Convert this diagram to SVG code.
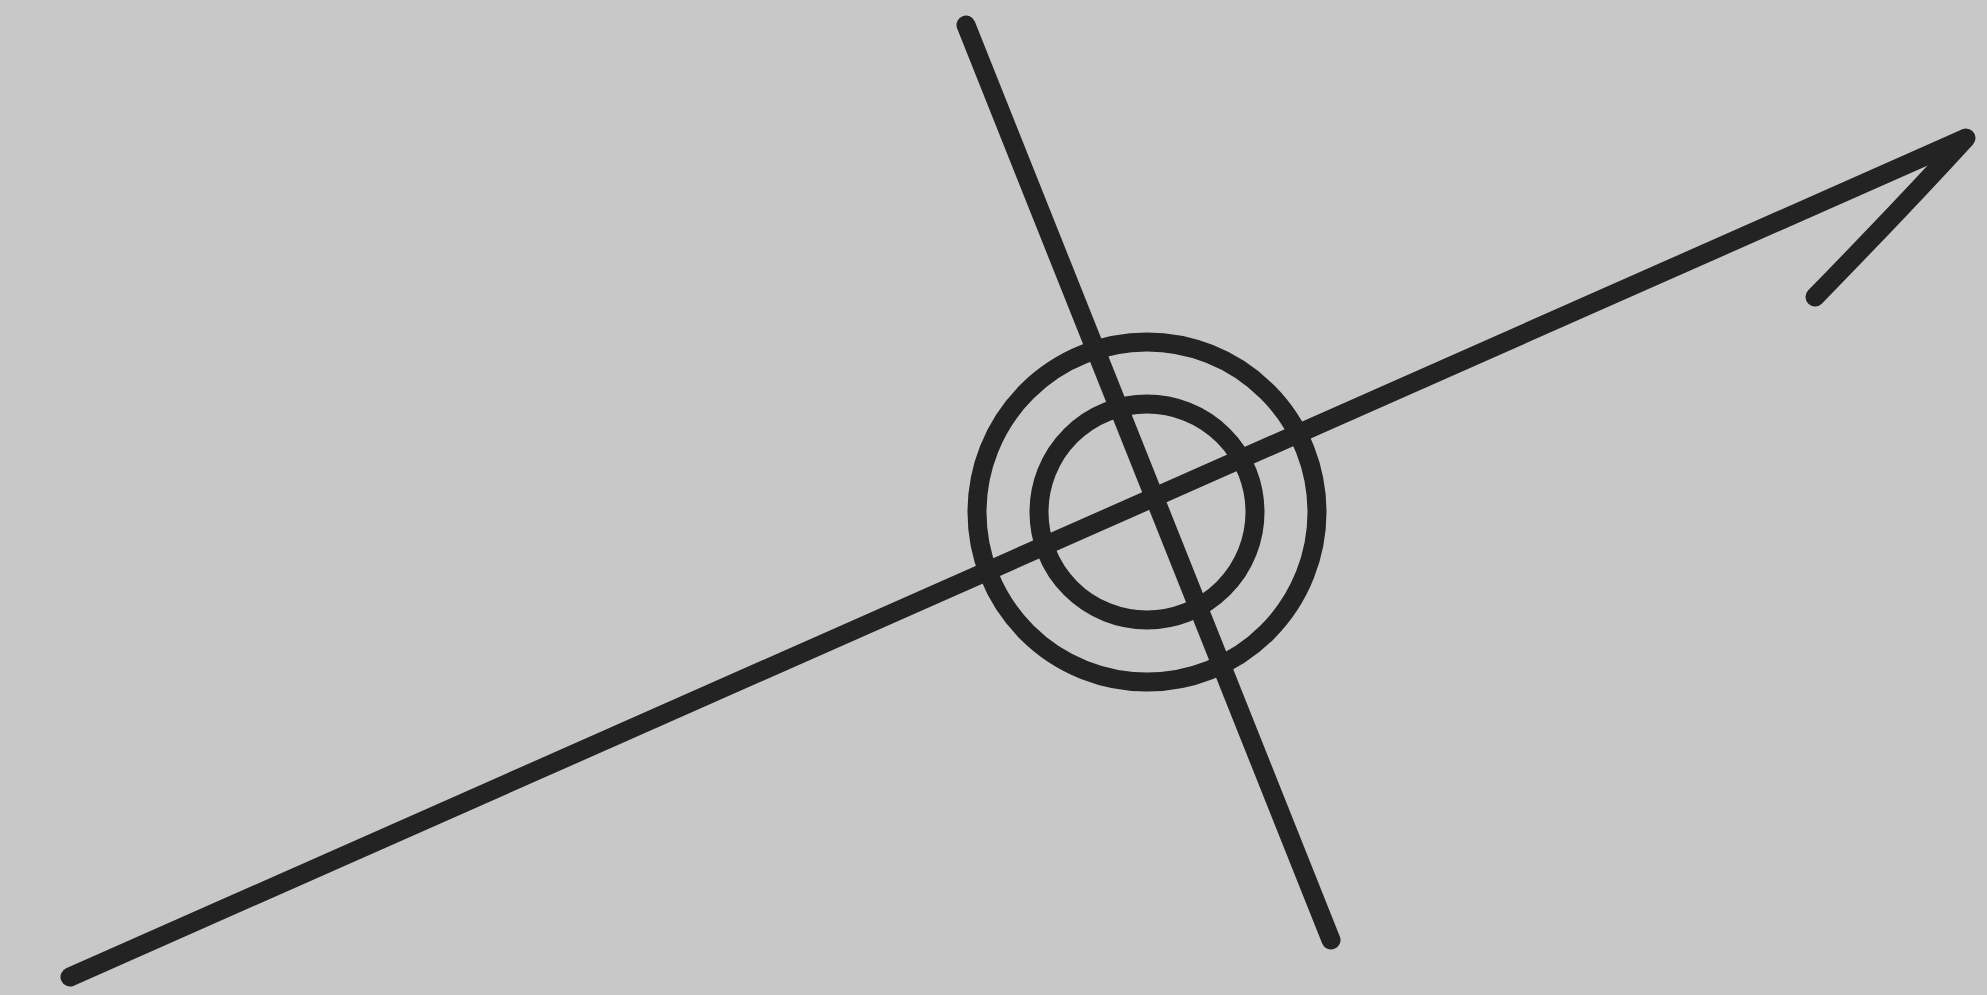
<svg xmlns="http://www.w3.org/2000/svg" width="1987" height="995" viewBox="0 0 1987 995">
<style>
.s{fill:none;stroke:#232323;stroke-width:19;stroke-linecap:round;stroke-linejoin:round}
</style>
<rect width="1987" height="995" fill="#c8c8c8"/>
<g id="connectors">
<path class="s" d="M70 977 L1964 139"/>
<path class="s" d="M1966 138 Q1900 210 1815 297"/>
<path class="s" d="M966 25 L1331 940"/>
</g>
<g id="target">
<circle class="s" cx="1147" cy="512" r="170"/>
<circle class="s" cx="1147" cy="512" r="108"/>
</g>
</svg>
